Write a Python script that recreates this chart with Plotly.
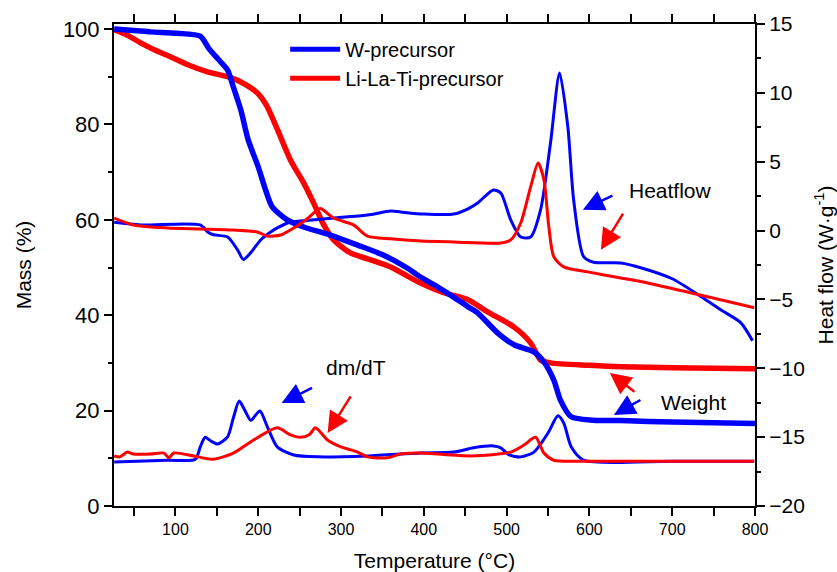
import plotly.graph_objects as go

# ---- data ----
w_mass_T = [26, 50, 70, 102, 130, 140, 152, 163, 170, 179, 188, 200, 209, 217, 235, 255, 287, 320, 351, 380, 396, 417, 436, 454, 465, 489, 509, 533, 545, 557, 565, 578, 605, 638, 700, 800]
w_mass = [100, 99.7, 99.4, 99.1, 98.5, 96.0, 93.6, 91.4, 87.8, 83.0, 76.7, 71.1, 66.2, 62.7, 60.0, 58.5, 56.8, 54.7, 52.6, 49.9, 48.0, 45.9, 43.8, 41.7, 40.5, 36.3, 33.8, 32.3, 30.2, 26.4, 22.2, 18.7, 18.0, 17.9, 17.6, 17.3]

l_mass_T = [26, 42, 58, 75, 90, 115, 139, 163, 179, 199, 210, 223, 239, 255, 267, 278, 291, 312, 336, 360, 393, 424, 454, 477, 509, 529, 541, 553, 600, 638, 700, 800]
l_mass = [99.8, 98.7, 97.1, 95.6, 94.5, 92.5, 91.0, 90.0, 88.9, 86.6, 84.0, 79.0, 72.5, 67.7, 63.5, 59.3, 55.8, 53.0, 51.6, 50.1, 47.0, 44.7, 43.2, 40.7, 37.5, 34.2, 30.6, 30.0, 29.5, 29.2, 29.0, 28.8]

w_heat_T = [26, 58, 130, 139, 146, 163, 175, 182, 191, 203, 215, 223, 239, 251, 291, 332, 360, 372, 400, 436, 454, 465, 484, 493, 505, 517, 529, 541, 553, 564, 574, 581, 593, 605, 638, 662, 700, 735, 760, 783, 797]
w_heat = [0.6, 0.41, 0.41, -0.1, -0.3, -0.47, -1.4, -2.1, -1.6, -0.68, -0.1, 0.19, 0.62, 0.7, 0.91, 1.13, 1.42, 1.35, 1.2, 1.2, 1.6, 2.0, 2.95, 2.73, 0.77, -0.47, -0.47, 1.5, 6.36, 11.45, 7.5, 2.2, -1.9, -2.3, -2.35, -2.7, -3.5, -4.8, -5.8, -6.7, -8.0]

l_heat_T = [26, 49, 90, 130, 170, 199, 211, 227, 243, 258, 267, 275, 291, 315, 332, 360, 396, 436, 493, 505, 517, 529, 538, 545, 551, 557, 569, 598, 638, 662, 799]
l_heat = [0.91, 0.41, 0.19, 0.12, 0.04, -0.1, -0.4, -0.32, 0.19, 0.8, 1.28, 1.6, 0.91, 0.41, -0.4, -0.6, -0.76, -0.83, -0.9, -0.68, 0.55, 3.17, 4.9, 3.7, 0.26, -1.9, -2.64, -3.0, -3.44, -3.7, -5.6]

w_dtg_T = [26, 90, 124, 130, 136, 143, 151, 163, 170, 177, 184, 191, 202, 211, 223, 243, 272, 332, 396, 436, 460, 484, 493, 503, 517, 533, 550, 562, 569, 578, 593, 700, 799]
w_dtg = [9.2, 9.6, 9.8, 12.4, 14.4, 13.6, 13.0, 14.5, 18.5, 22.0, 20.0, 18.0, 19.9, 16.6, 12.4, 10.7, 10.3, 10.5, 11.1, 11.3, 12.2, 12.6, 12.2, 10.7, 10.3, 11.3, 15.3, 18.9, 17.4, 12.4, 9.6, 9.4, 9.4]

l_dtg_T = [26, 33, 42, 49, 70, 86, 92, 98, 122, 145, 170, 194, 223, 239, 251, 262, 269, 284, 300, 320, 332, 356, 372, 396, 457, 505, 521, 535, 545, 557, 598, 799]
l_dtg = [10.5, 10.3, 11.3, 10.9, 10.9, 11.1, 10.1, 11.1, 10.5, 9.8, 11.1, 13.8, 16.4, 14.9, 14.4, 15.0, 16.4, 13.8, 12.4, 11.3, 10.3, 10.1, 10.9, 11.1, 10.5, 11.3, 12.8, 14.4, 11.1, 9.6, 9.4, 9.4]

x_ticks = [100, 200, 300, 400, 500, 600, 700, 800]
names = ["W-precursor", "Li-La-Ti-precursor"]

BLUE = "#0000FF"
RED = "#FF0000"
FONT = "Liberation Sans, Arial, sans-serif"

fig = go.Figure()

def add(x, y, color, width, yaxis="y", name=None, show=False):
    fig.add_trace(go.Scatter(x=x, y=y, mode="lines", yaxis=yaxis, name=name,
                             showlegend=show,
                             line=dict(color=color, width=width, shape="spline", smoothing=0.7)))

add(w_heat_T, w_heat, BLUE, 3, yaxis="y2")
add(l_heat_T, l_heat, RED, 3, yaxis="y2")
add(w_dtg_T, w_dtg, BLUE, 3)
add(l_dtg_T, l_dtg, RED, 3)
add(l_mass_T, l_mass, RED, 5.5)
add(w_mass_T, w_mass, BLUE, 5.5)
# legend entries
fig.add_trace(go.Scatter(x=[None], y=[None], mode="lines", name=names[0], line=dict(color=BLUE, width=5)))
fig.add_trace(go.Scatter(x=[None], y=[None], mode="lines", name=names[1], line=dict(color=RED, width=5)))

def arrow(xh, yh, xt, yt, color):
    fig.add_annotation(x=xh, y=yh, ax=xt, ay=yt, xref="x", yref="y", axref="x", ayref="y",
                       text="", showarrow=True, arrowhead=2, arrowsize=1.7, arrowwidth=2.5,
                       arrowcolor=color)

arrow(592.1, 62.1, 629.6, 65.2, BLUE)
arrow(613.9, 53.7, 641.7, 61.6, RED)
arrow(228.2, 21.6, 266.8, 24.9, BLUE)
arrow(283.8, 15.3, 312.8, 23.3, RED)
arrow(629.6, 19.1, 663.4, 22.4, BLUE)
arrow(624.7, 27.9, 656.2, 23.7, RED)

def label(x, y, t):
    fig.add_annotation(x=x, y=y, xref="x", yref="y", text=t, showarrow=False,
                       font=dict(family=FONT, size=21, color="black"))

label(698.5, 66.2, "Heatflow")
label(317.6, 29.1, "dm/dT")
label(726.3, 21.8, "Weight")

axis_common = dict(showline=True, linecolor="black", linewidth=2, showgrid=False, zeroline=False,
                   ticks="outside", tickcolor="black", tickwidth=2, ticklen=8, automargin=False)

fig.update_layout(
    width=837, height=572,
    margin=dict(l=114, r=82, t=24, b=66),
    plot_bgcolor="white", paper_bgcolor="white",
    font=dict(family=FONT, color="black"),
    xaxis=dict(range=[25.8, 800], tickvals=x_ticks, tickfont=dict(size=16),
               title=dict(text="Temperature (°C)", font=dict(size=21), standoff=22),
               mirror="allticks",
               minor=dict(dtick=50, tick0=0, ticks="outside", ticklen=4, tickcolor="black", tickwidth=2),
               **axis_common),
    yaxis=dict(range=[0, 101.05], tickvals=[0, 20, 40, 60, 80, 100], tickfont=dict(size=22),
               title=dict(text="Mass (%)", font=dict(size=21), standoff=26),
               minor=dict(dtick=10, tick0=0, ticks="outside", ticklen=4, tickcolor="black", tickwidth=2),
               **axis_common),
    yaxis2=dict(range=[-20, 15], overlaying="y", side="right", tickvals=[-20, -15, -10, -5, 0, 5, 10, 15],
                tickfont=dict(size=21),
                title=dict(text="Heat flow (W·g<sup>-1</sup>)", font=dict(size=21), standoff=17),
                minor=dict(dtick=2.5, tick0=0, ticks="outside", ticklen=4, tickcolor="black", tickwidth=2),
                **axis_common),
    legend=dict(x=0.267, y=0.988, xanchor="left", yanchor="top", bgcolor="rgba(0,0,0,0)",
                font=dict(size=20), itemwidth=50, tracegroupgap=0),
)

fig.write_html("out.html")
